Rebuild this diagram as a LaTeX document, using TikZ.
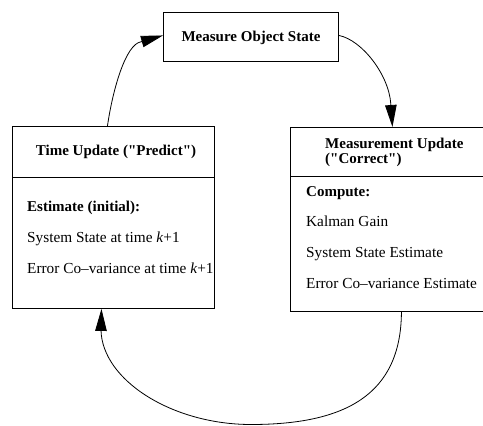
\documentclass[tikz,border=0pt]{standalone}
\usepackage{fontspec}
\newfontfamily\tnr{Liberation Serif}
\usetikzlibrary{arrows.meta}
\tikzset{
  box/.style={draw, line width=0.9pt, inner sep=0pt, anchor=north west},
  title/.style={font=\tnr\bfseries\fontsize{15}{15}\selectfont, inner sep=0pt},
  entry/.style={font=\tnr\fontsize{15.3}{15}\selectfont, inner sep=0pt, anchor=base west},
  head/.style={font=\tnr\bfseries\fontsize{15}{15}\selectfont, inner sep=0pt, anchor=base west},
  flow/.style={line width=0.8pt, -{Triangle[length=22pt,width=11.5pt]}},
}
\begin{document}
\begin{tikzpicture}[x=1pt,y=-1pt]
\useasboundingbox (0,0) rectangle (483,426);
\clip (0,0) rectangle (483,426);

% boxes
\node[box, minimum width=175pt, minimum height=49pt] (meas) at (163,12) {};
\node[box, minimum width=202pt, minimum height=182pt] (pred) at (12,126) {};
\node[box, minimum width=194pt, minimum height=184pt] (corr) at (290,127) {};

% header dividers
\coordinate (pdivL) at (12,177);
\coordinate (pdivR) at (214,177);
\coordinate (cdivL) at (290,176);
\coordinate (cdivR) at (484,176);
\draw[line width=0.9pt] (pdivL) -- (pdivR);
\draw[line width=0.9pt] (cdivL) -- (cdivR);

% texts
\node[title, anchor=base] (mt) at (251,41) {Measure Object State};

\node[title, anchor=base] (pt) at (116,155) {Time Update ("Predict")};
\node[head]  (p1) at (27,211) {Estimate (initial):};
\node[entry] (p2) at (27,242.5) {System State at time \textit{k}+1};
\node[entry] (p3) at (27,273) {Error Co–variance at time \textit{k}+1};

\node[head]  (c0) at (325,148.5) {Measurement Update};
\node[head]  (c0b) at (325,163) {("Correct")};
\node[head]  (c1) at (306,196) {Compute:};
\node[entry] (c2) at (306,226) {Kalman Gain};
\node[entry] (c3) at (306,257) {System State Estimate};
\node[entry] (c4) at (306,288) {Error Co–variance Estimate};

% cycle connectors: each curve runs to the base of its arrowhead,
% then a short straight piece carries the head onto the target box
\coordinate (baseA) at (141,41.8);
\coordinate (baseB) at (390.8,104);
\coordinate (baseC) at (101,330);
\coordinate (bot) at (251,424.5);
\draw[flow] ([xshift=-6pt]pred.north) .. controls (113,88) and (126,44) .. (baseA) -- ([yshift=1.5pt]meas.west);
\draw[flow] ([yshift=1.5pt]meas.east) .. controls (362,40) and (389,75) .. (baseB) -- ([xshift=5pt]corr.north);
\draw[flow] ([xshift=14pt]corr.south) .. controls (401,395) and (345,424.5) .. (bot)
  .. controls (172,424.5) and (102,380) .. (baseC) -- ([xshift=-12pt]pred.south);
\end{tikzpicture}
\end{document}
